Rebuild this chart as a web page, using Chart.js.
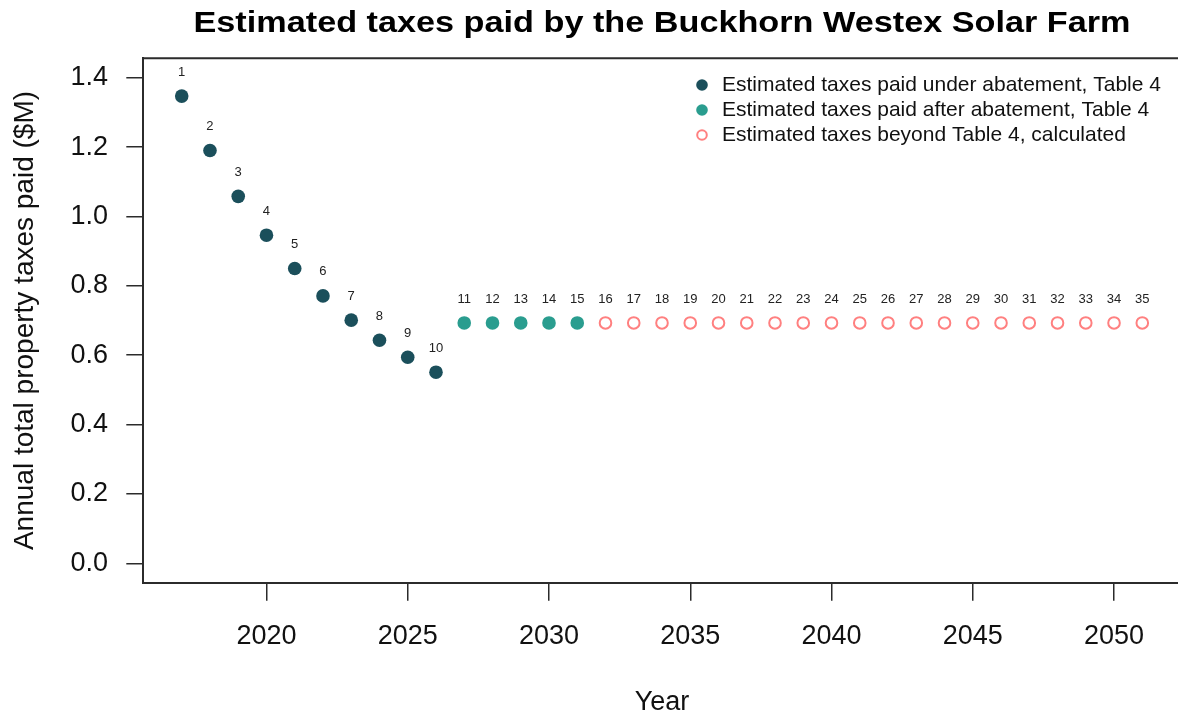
<!DOCTYPE html>
<html>
<head>
<meta charset="utf-8">
<script src="https://cdn.jsdelivr.net/npm/chart.js@4.4.1/dist/chart.umd.min.js"></script>
<style>
  html, body { margin: 0; padding: 0; background: #fff; overflow: hidden; }
  #wrap { width: 1192px; height: 719px; }
</style>
</head>
<body>
<div id="wrap"><canvas id="chart" width="1192" height="719"></canvas></div>
<script>
const yearsUnder = [2017, 2018, 2019, 2020, 2021, 2022, 2023, 2024, 2025, 2026];
const taxesUnder = [1.347, 1.190, 1.058, 0.946, 0.850, 0.771, 0.701, 0.643, 0.594, 0.551];
const yearsAfter = [2027, 2028, 2029, 2030, 2031];
const taxesAfter = [0.693, 0.693, 0.693, 0.693, 0.693];
const yearsBeyond = [2032, 2033, 2034, 2035, 2036, 2037, 2038, 2039, 2040, 2041,
    2042, 2043, 2044, 2045, 2046, 2047, 2048, 2049, 2050, 2051];
const taxesBeyond = [0.693, 0.693, 0.693, 0.693, 0.693, 0.693, 0.693, 0.693, 0.693, 0.693,
    0.693, 0.693, 0.693, 0.693, 0.693, 0.693, 0.693, 0.693, 0.693, 0.693];
const xTicks = [2020, 2025, 2030, 2035, 2040, 2045, 2050];
const yTicks = [0.0, 0.2, 0.4, 0.6, 0.8, 1.0, 1.2, 1.4];
const titleText = 'Estimated taxes paid by the Buckhorn Westex Solar Farm';

const font = '"Liberation Sans", Arial, Helvetica, sans-serif';
const axisColor = '#2b2b2b';
const pts = (xs, ys) => xs.map((x, i) => ({ x, y: ys[i] }));

// year number above each point, top/right of the box, and the title over the plot
const decorations = {
    id: 'decorations',
    afterDatasetsDraw(chart) {
        const { ctx } = chart;
        const a = chart.chartArea;
        ctx.save();
        ctx.font = '13px ' + font;
        ctx.fillStyle = '#222';
        ctx.textAlign = 'center';
        ctx.textBaseline = 'middle';
        chart.data.datasets.forEach((ds, i) => {
            chart.getDatasetMeta(i).data.forEach((el, j) => {
                ctx.fillText(String(ds.data[j].x - yearsUnder[0] + 1), el.x, el.y - 24);
            });
        });
        ctx.strokeStyle = axisColor;
        ctx.lineWidth = 2;
        ctx.beginPath();
        ctx.moveTo(a.left - 1, a.top);
        ctx.lineTo(a.right, a.top);
        ctx.lineTo(a.right, a.bottom);
        ctx.stroke();

        // title, centred on the plot region, stretched a little like the original
        ctx.font = 'bold 30px ' + font;
        ctx.fillStyle = '#000';
        const w = ctx.measureText(titleText).width;
        ctx.translate((a.left + a.right) / 2, 24);
        ctx.scale(937 / w, 1);
        ctx.fillText(titleText, 0, 0);
        ctx.restore();
    },
};

const insideLegend = {
    id: 'insideLegend',
    afterDraw(chart) {
        const { ctx } = chart;
        ctx.save();
        ctx.font = '21px ' + font;
        ctx.textBaseline = 'middle';
        ctx.textAlign = 'left';
        chart.data.datasets.forEach((ds, i) => {
            const y = 85 + i * 25;
            ctx.beginPath();
            ctx.arc(702, y, ds.pointBorderWidth ? 4.8 : 5.8, 0, Math.PI * 2);
            if (ds.pointBorderWidth) {
                ctx.strokeStyle = ds.pointBorderColor;
                ctx.lineWidth = 2;
                ctx.stroke();
            } else {
                ctx.fillStyle = ds.pointBackgroundColor;
                ctx.fill();
            }
            ctx.fillStyle = '#111';
            ctx.fillText(ds.label, 722, y);
        });
        ctx.restore();
    },
};

new Chart(document.getElementById('chart'), {
    type: 'scatter',
    data: {
        datasets: [
            {
                label: 'Estimated taxes paid under abatement, Table 4',
                data: pts(yearsUnder, taxesUnder),
                pointBackgroundColor: '#1b4f5b',
                pointBorderWidth: 0,
                pointRadius: 6.8,
            },
            {
                label: 'Estimated taxes paid after abatement, Table 4',
                data: pts(yearsAfter, taxesAfter),
                pointBackgroundColor: '#2a9d8f',
                pointBorderWidth: 0,
                pointRadius: 6.8,
            },
            {
                label: 'Estimated taxes beyond Table 4, calculated',
                data: pts(yearsBeyond, taxesBeyond),
                pointBackgroundColor: 'rgba(0,0,0,0)',
                pointBorderColor: '#ff8080',
                pointBorderWidth: 2,
                pointRadius: 5.8,
            },
        ],
    },
    options: {
        responsive: false,
        devicePixelRatio: 1,
        animation: false,
        layout: { padding: { left: 0, right: 11.3, top: 58.3, bottom: 0 } },
        plugins: {
            legend: { display: false },
            tooltip: { enabled: false },
            title: { display: false },
        },
        scales: {
            x: {
                type: 'linear',
                min: 2015.64,
                max: 2052.36,
                afterBuildTicks: s => { s.ticks = xTicks.map(v => ({ value: v })); },
                afterFit: s => { s.height = 136.3; },
                grid: { drawOnChartArea: false, drawTicks: true, tickLength: 18, color: axisColor, lineWidth: 1.5 },
                border: { display: true, color: axisColor, width: 2 },
                ticks: { color: '#111', padding: 19.4, maxRotation: 0, autoSkip: false, font: { family: font, size: 27 }, callback: v => String(v) },
                title: { display: true, text: 'Year', color: '#111', font: { family: font, size: 27, lineHeight: 1 }, padding: { bottom: 2.5 } },
            },
            y: {
                type: 'linear',
                min: -0.056,
                max: 1.456,
                afterBuildTicks: s => { s.ticks = yTicks.map(v => ({ value: v })); },
                afterFit: s => { s.width = 143.3; },
                grid: { drawOnChartArea: false, drawTicks: true, tickLength: 17, color: axisColor, lineWidth: 1.5 },
                border: { display: true, color: axisColor, width: 2 },
                ticks: { color: '#111', padding: 18.3, autoSkip: false, font: { family: font, size: 27 }, callback: v => v.toFixed(1) },
                title: { display: true, text: 'Annual total property taxes paid ($M)', color: '#111', font: { family: font, size: 28, lineHeight: 1 }, padding: { top: 11 } },
            },
        },
    },
    plugins: [decorations, insideLegend],
});
</script>
</body>
</html>
